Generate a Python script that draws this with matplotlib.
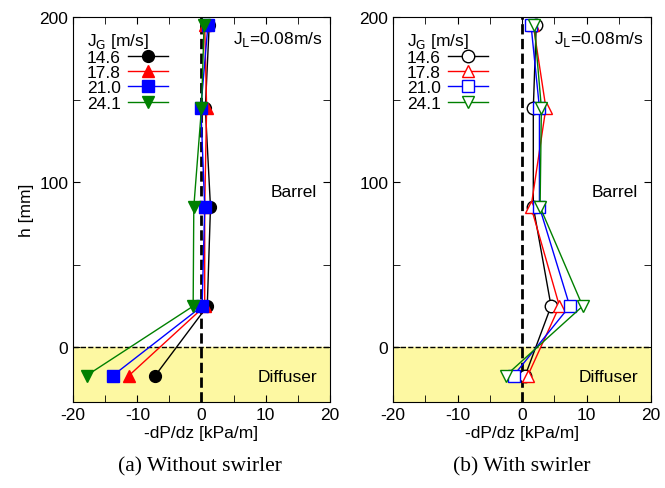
import matplotlib.pyplot as plt
from matplotlib.ticker import MultipleLocator

plt.rcParams['font.family'] = ['Liberation Sans', 'DejaVu Sans']
plt.rcParams['axes.unicode_minus'] = False

# heights of the measurement points [mm]
h = [195, 145, 85, 25, -17]

jg_labels = ['14.6', '17.8', '21.0', '24.1']
colors = ['black', 'red', 'blue', 'green']
markers = ['o', '^', 's', 'v']

# -dP/dz [kPa/m], without swirler
dp_without = [
    [1.2, 0.6, 1.4, 0.9, -7.2],
    [0.5, 0.8, 0.5, 0.5, -11.3],
    [1.0, -0.1, 0.5, 0.1, -13.8],
    [0.4, 0.0, -1.2, -1.3, -17.9],
]

# -dP/dz [kPa/m], with swirler
dp_with = [
    [2.2, 1.75, 1.75, 4.5, 0.5],
    [1.75, 3.7, 1.4, 5.8, 0.9],
    [1.4, 2.7, 2.7, 7.4, -1.3],
    [1.9, 3.0, 2.8, 9.4, -2.5],
]


def draw_panel(ax, data, filled, ylabel=True):
    ax.axhspan(-33, 0, color='#fdf8a2', zorder=0)
    ax.axhline(0, color='black', linestyle='--', linewidth=1, zorder=1)
    ax.axvline(0, color='black', linestyle='--', linewidth=2, zorder=1)
    for vals, c, m, lab in zip(data, colors, markers, jg_labels):
        ax.plot(vals, h, color=c, marker=m, markersize=8.5 if filled else 9,
                linewidth=1,
                markerfacecolor=c if filled else 'white',
                markeredgecolor=c, label=lab, zorder=3)
    ax.set_xlim(-20, 20)
    ax.set_ylim(-33, 200)
    ax.xaxis.set_major_locator(MultipleLocator(10))
    ax.xaxis.set_minor_locator(MultipleLocator(5))
    ax.yaxis.set_major_locator(MultipleLocator(100))
    ax.yaxis.set_minor_locator(MultipleLocator(50))
    ax.tick_params(which='both', direction='in', top=True, right=True,
                   labelsize=12.5, length=5)
    ax.set_xlabel('-dP/dz [kPa/m]', fontsize=12.5, labelpad=2)
    if ylabel:
        ax.set_ylabel('h [mm]', fontsize=12.5)
    leg = ax.legend(loc='upper left', markerfirst=False, frameon=False,
                    title='J$_\\mathrm{G}$ [m/s]', fontsize=12.5,
                    title_fontsize=12.5, handlelength=2.3, labelspacing=0.0,
                    borderaxespad=0.4, handletextpad=0.4)
    leg._legend_box.align = 'left'
    ax.text(0.97, 0.945, 'J$_\\mathrm{L}$=0.08m/s', transform=ax.transAxes,
            ha='right', va='center', fontsize=12.5)
    ax.text(0.95, 0.548, 'Barrel', transform=ax.transAxes,
            ha='right', va='center', fontsize=12.5)
    ax.text(0.95, 0.065, 'Diffuser', transform=ax.transAxes,
            ha='right', va='center', fontsize=12.5)


fig = plt.figure(figsize=(6.65, 4.89), dpi=100)
ax1 = fig.add_axes([0.110, 0.176, 0.386, 0.787])
ax2 = fig.add_axes([0.591, 0.176, 0.388, 0.787])

draw_panel(ax1, dp_without, True)
draw_panel(ax2, dp_with, False, ylabel=False)

fig.text(0.300, 0.045, '(a) Without swirler', ha='center', va='center',
         fontsize=15.5, family=['Liberation Serif'])
fig.text(0.785, 0.045, '(b) With swirler', ha='center', va='center',
         fontsize=15.5, family=['Liberation Serif'])

fig.savefig('out.png', dpi=100)
